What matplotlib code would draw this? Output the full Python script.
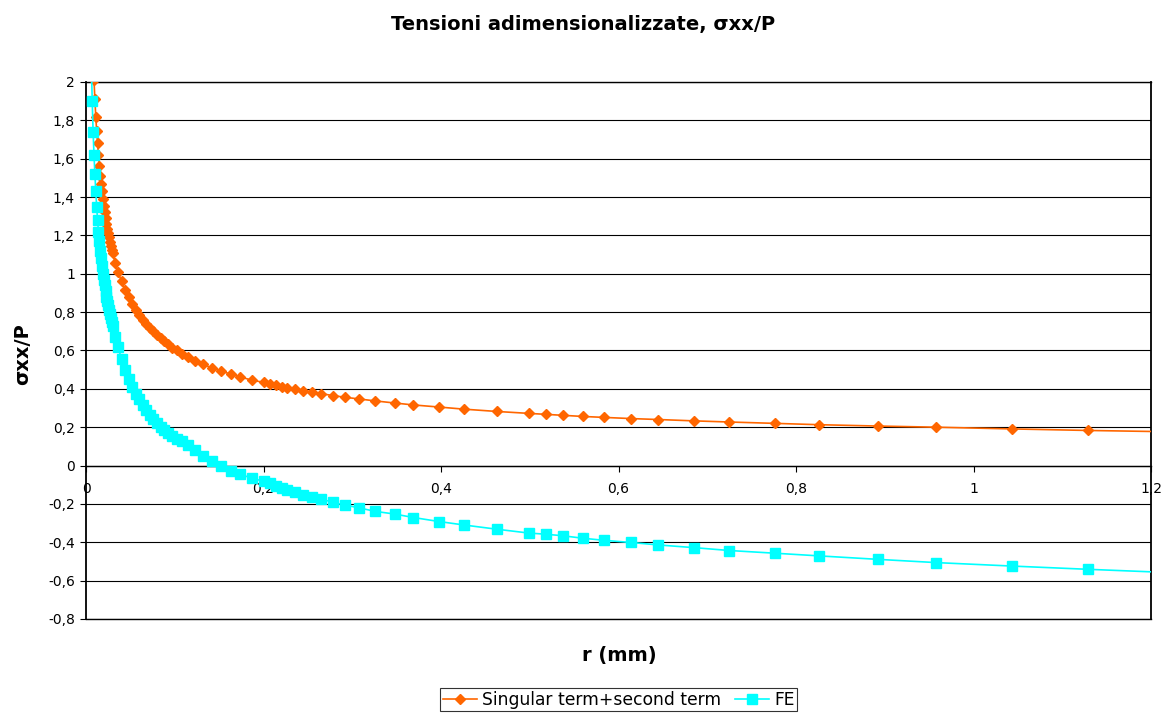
"""
Tensioni adimensionalizzate sigma_xx/P lungo r: termine singolare + secondo termine vs FE
"""
import matplotlib
matplotlib.use('Agg')
import matplotlib.pyplot as plt
from matplotlib.ticker import MultipleLocator, FuncFormatter

# font largo (il grafico Excel originale ha il testo "stirato")
plt.rcParams['font.family'] = ['DejaVu Sans']

# --- dati ---
r_mm = [
    0.005, 0.006, 0.007, 0.008, 0.009, 0.010, 0.011, 0.012, 0.013, 0.014,
    0.015, 0.016, 0.017, 0.018, 0.019, 0.020, 0.021, 0.022, 0.023, 0.024,
    0.025, 0.026, 0.027, 0.028, 0.029, 0.030, 0.033, 0.036, 0.040, 0.044,
    0.048, 0.052, 0.056, 0.060, 0.064, 0.068, 0.072, 0.076, 0.080, 0.084,
    0.088, 0.092, 0.097, 0.102, 0.108, 0.115, 0.123, 0.132, 0.142, 0.152,
    0.163, 0.174, 0.187, 0.200, 0.207, 0.214, 0.221, 0.227, 0.236, 0.244,
    0.255, 0.265, 0.278, 0.292, 0.308, 0.326, 0.348, 0.369, 0.398, 0.426,
    0.463, 0.499, 0.518, 0.537, 0.560, 0.584, 0.614, 0.645, 0.685, 0.725,
    0.776, 0.826, 0.892, 0.958, 1.043, 1.129, 1.210,
]

sigma_singular = [
    2.70, 2.46, 2.28, 2.13, 2.01, 1.91, 1.82, 1.745, 1.68, 1.62,
    1.56, 1.51, 1.47, 1.43, 1.39, 1.355, 1.32, 1.29, 1.26, 1.235,
    1.21, 1.19, 1.165, 1.145, 1.125, 1.107, 1.056, 1.011, 0.960, 0.916,
    0.877, 0.843, 0.813, 0.786, 0.761, 0.739, 0.718, 0.699, 0.682, 0.666,
    0.650, 0.634, 0.615, 0.600, 0.583, 0.564, 0.545, 0.527, 0.509, 0.493,
    0.477, 0.462, 0.445, 0.434, 0.424, 0.418, 0.412, 0.406, 0.398, 0.390,
    0.382, 0.375, 0.365, 0.356, 0.347, 0.337, 0.326, 0.316, 0.305, 0.294,
    0.282, 0.272, 0.267, 0.262, 0.256, 0.251, 0.245, 0.240, 0.233, 0.227,
    0.220, 0.213, 0.206, 0.200, 0.191, 0.183, 0.177,
]

sigma_fe = [
    2.35, 2.10, 1.90, 1.74, 1.62, 1.52, 1.43, 1.35, 1.28, 1.22,
    1.17, 1.12, 1.08, 1.04, 1.00, 0.97, 0.94, 0.91, 0.88, 0.86,
    0.835, 0.81, 0.79, 0.77, 0.75, 0.73, 0.67, 0.62, 0.555, 0.50,
    0.45, 0.41, 0.375, 0.345, 0.315, 0.29, 0.265, 0.243, 0.222, 0.20,
    0.185, 0.17, 0.155, 0.141, 0.126, 0.106, 0.080, 0.052, 0.024, -0.003,
    -0.026, -0.046, -0.066, -0.082, -0.091, -0.105, -0.117, -0.126, -0.140, -0.152,
    -0.164, -0.174, -0.192, -0.206, -0.221, -0.239, -0.253, -0.271, -0.292, -0.310,
    -0.332, -0.352, -0.358, -0.366, -0.379, -0.390, -0.401, -0.414, -0.428, -0.443,
    -0.457, -0.471, -0.489, -0.506, -0.524, -0.541, -0.556,
]

series_labels = ['Singular term+second term', 'FE']
title = 'Tensioni adimensionalizzate, σxx/P'
x_title = 'r (mm)'
y_title = 'σxx/P'


def comma_fmt(v, pos):
    """etichette con la virgola decimale"""
    s = f'{v:.1f}'.rstrip('0').rstrip('.')
    if s in ('-0', ''):
        s = '0'
    return s.replace('.', ',')


def create_chart():
    fig = plt.figure(figsize=(11.67, 7.16), dpi=100)
    ax = fig.add_axes([0.0737, 0.1355, 0.9126, 0.75])

    # l'ultimo punto serve solo per la linea (senza marker)
    n = len(r_mm)
    ax.plot(r_mm, sigma_singular, color='#FF6600', linewidth=1.2,
            marker='D', markersize=5.2, markevery=slice(0, n - 1),
            label=series_labels[0], zorder=3)
    ax.plot(r_mm, sigma_fe, color='#00FFFF', linewidth=1.2,
            marker='s', markersize=6.5, markevery=slice(0, n - 1),
            label=series_labels[1], zorder=4)

    ax.set_xlim(0, 1.2)
    ax.set_ylim(-0.8, 2)
    ax.xaxis.set_major_locator(MultipleLocator(0.2))
    ax.yaxis.set_major_locator(MultipleLocator(0.2))
    ax.xaxis.set_major_formatter(FuncFormatter(comma_fmt))
    ax.yaxis.set_major_formatter(FuncFormatter(comma_fmt))

    # griglia orizzontale nera stile Excel
    ax.yaxis.grid(True, color='black', linewidth=0.8)
    ax.xaxis.grid(False)
    ax.set_axisbelow(True)
    ax.axhline(-0.8, color='black', linewidth=1.0, clip_on=False, zorder=1)
    ax.axhline(2, color='black', linewidth=1.0, clip_on=False, zorder=1)

    # asse x sulla linea dello zero
    ax.spines['bottom'].set_position(('data', 0))
    ax.spines['bottom'].set_linewidth(1.0)
    ax.spines['left'].set_linewidth(1.3)
    ax.spines['right'].set_linewidth(1.3)
    ax.spines['top'].set_visible(False)
    for s in ('bottom', 'left', 'right'):
        ax.spines[s].set_color('black')

    ax.tick_params(axis='x', direction='out', length=4, width=0.8, pad=8,
                   labelsize=10)
    ax.tick_params(axis='y', direction='out', length=4, width=0.8, pad=4,
                   labelsize=10)

    # titoli
    fig.text(0.5, 0.966, title, ha='center', va='center',
             fontsize=14, fontweight='bold')
    fig.text(0.531, 0.085, x_title, ha='center', va='center',
             fontsize=14, fontweight='bold')
    fig.text(0.019, 0.505, y_title, ha='center', va='center', rotation=90,
             fontsize=14, fontweight='bold')

    # legenda in basso
    leg = fig.legend(loc='center', bbox_to_anchor=(0.53, 0.0225), ncol=2,
                     fontsize=12.3, frameon=True, fancybox=False,
                     handlelength=2.0, handletextpad=0.3, columnspacing=0.8,
                     borderpad=0.15, borderaxespad=0)
    leg.get_frame().set_edgecolor('black')
    leg.get_frame().set_linewidth(0.8)

    return fig


def main():
    fig = create_chart()
    fig.savefig('out.png', dpi=100, facecolor='white')
    plt.close(fig)


if __name__ == '__main__':
    main()
